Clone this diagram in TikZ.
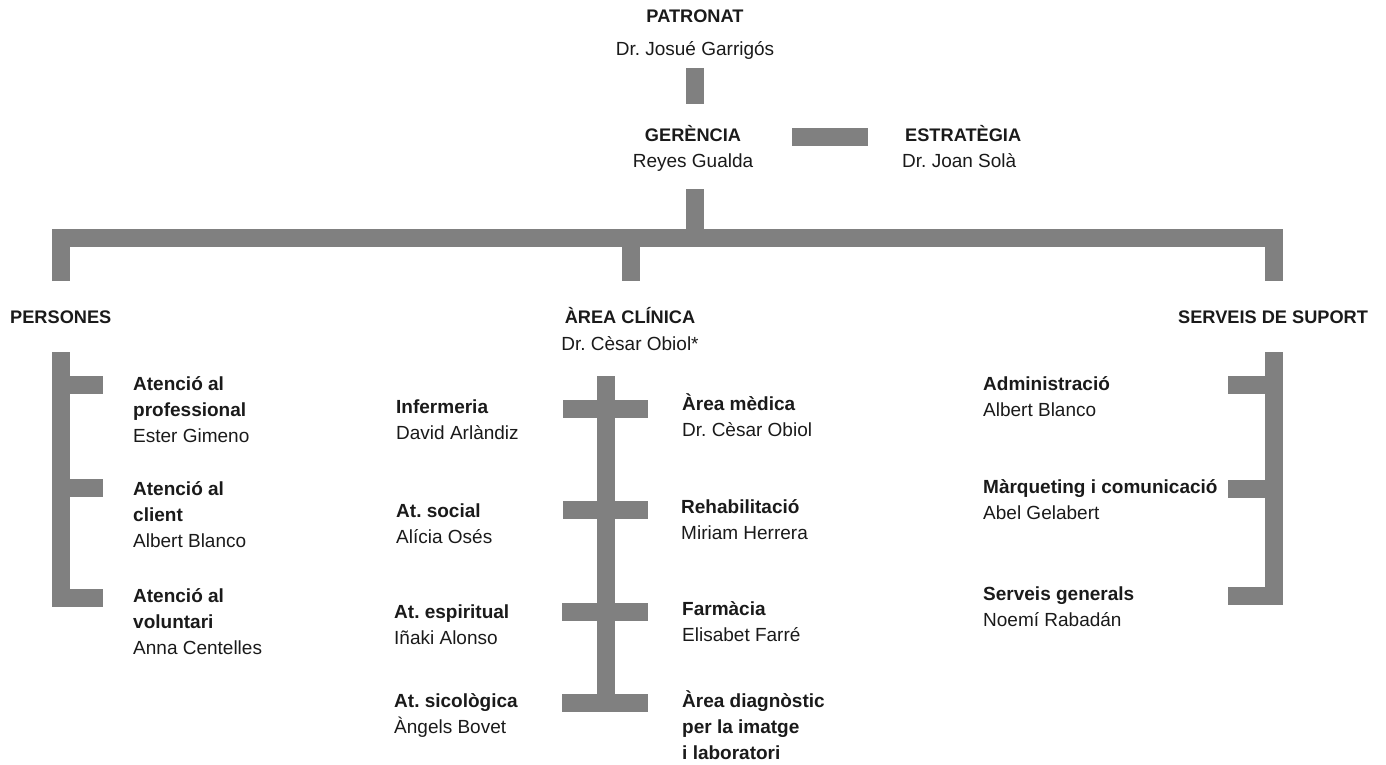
\documentclass[tikz,border=0pt]{standalone}
\usepackage{fontspec}
\setmainfont{Liberation Sans}
\definecolor{barc}{RGB}{128,128,128}
\definecolor{ink}{RGB}{26,26,26}
\newcommand\blk[1]{\vtop{\baselineskip=26pt\lineskiplimit=-100pt\lineskip=0pt\halign{##\hfil\cr#1\crcr}}}
\frenchspacing
\begin{document}
\begin{tikzpicture}[x=1pt,y=-1pt,
  bar/.style={line width=18pt, draw=barc, line cap=butt, line join=miter},
  txt/.style={inner sep=0pt, text=ink, font=\fontsize{19}{26}\selectfont},
  headtxt/.style={inner sep=0pt, text=ink, font=\fontsize{18.2}{26}\selectfont\bfseries}]
\useasboundingbox (0,0) rectangle (1386,765);
% headings
\node[headtxt,anchor=base] (patronat) at (695,23) {PATRONAT};
\node[txt,anchor=base] (patronatn) at (695,56) {Dr. Josué Garrigós};
\node[headtxt,anchor=base] (gerencia) at (693,142) {GERÈNCIA};
\node[txt,anchor=base] (gerencian) at (693,167) {Reyes Gualda};
\node[headtxt,anchor=base west] (estrategia) at (905,142) {ESTRATÈGIA};
\node[txt,anchor=base west] (estrategian) at (902,167) {Dr. Joan Solà};
\node[headtxt,anchor=base west] (persones) at (10,323) {PERSONES};
\node[headtxt,anchor=base] (clinica) at (630,323) {ÀREA CLÍNICA};
\node[txt,anchor=base] (clinican) at (630,350) {Dr. Cèsar Obiol*};
\node[headtxt,anchor=base west] (suport) at (1178,323) {SERVEIS DE SUPORT};
% persones
\node[txt,anchor=base west] (pe1) at (133,390) {\blk{\bfseries Atenció al\cr\bfseries professional\cr Ester Gimeno}};
\node[txt,anchor=base west] (pe2) at (133,495) {\blk{\bfseries Atenció al\cr\bfseries client\cr Albert Blanco}};
\node[txt,anchor=base west] (pe3) at (133,602) {\blk{\bfseries Atenció al\cr\bfseries voluntari\cr Anna Centelles}};
% clinica left
\node[txt,anchor=base west] (cl1) at (396,413) {\blk{\bfseries Infermeria\cr David Arlàndiz}};
\node[txt,anchor=base west] (cl2) at (396,517) {\blk{\bfseries At. social\cr Alícia Osés}};
\node[txt,anchor=base west] (cl3) at (394,618) {\blk{\bfseries At. espiritual\cr Iñaki Alonso}};
\node[txt,anchor=base west] (cl4) at (394,707) {\blk{\bfseries At. sicològica\cr Àngels Bovet}};
% clinica right
\node[txt,anchor=base west] (cr1) at (682,410) {\blk{\bfseries Àrea mèdica\cr Dr. Cèsar Obiol}};
\node[txt,anchor=base west] (cr2) at (681,513) {\blk{\bfseries Rehabilitació\cr Miriam Herrera}};
\node[txt,anchor=base west] (cr3) at (682,615) {\blk{\bfseries Farmàcia\cr Elisabet Farré}};
\node[txt,anchor=base west] (cr4) at (682,707) {\blk{\bfseries Àrea diagnòstic\cr\bfseries per la imatge\cr\bfseries i laboratori}};
% serveis
\node[txt,anchor=base west] (sv1) at (983,390) {\blk{\bfseries Administració\cr Albert Blanco}};
\node[txt,anchor=base west] (sv2) at (983,493) {\blk{\bfseries Màrqueting i comunicació\cr Abel Gelabert}};
\node[txt,anchor=base west] (sv3) at (983,600) {\blk{\bfseries Serveis generals\cr Noemí Rabadán}};
% bar coordinates
\coordinate (pA) at (695,68);   \coordinate (pB) at (695,104);
\coordinate (gA) at (792,137);  \coordinate (gB) at (868,137);
\coordinate (gC) at (695,189);  \coordinate (gD) at (695,238);
\coordinate (hL0) at (61,281);  \coordinate (hL) at (61,238);
\coordinate (hR) at (1274,238); \coordinate (hR0) at (1274,281);
\coordinate (hM) at (631,238);  \coordinate (hM0) at (631,281);
% persones bracket
\coordinate (ptop) at (60.5,352); \coordinate (pbot) at (60.5,597.5); \coordinate (pbotE) at (103,597.5);
\coordinate (pt1) at (60.5,384.5); \coordinate (pt1E) at (103,384.5);
\coordinate (pt2) at (60.5,488);   \coordinate (pt2E) at (103,488);
% clinica spine
\coordinate (ctop) at (606,376); \coordinate (cbot) at (606,702.5);
\coordinate (ct1W) at (563,409);   \coordinate (ct1E) at (648,409);
\coordinate (ct2W) at (563,510);   \coordinate (ct2E) at (648,510);
\coordinate (ct3W) at (562,611.5); \coordinate (ct3E) at (648,611.5);
\coordinate (ct4W) at (562,702.5); \coordinate (ct4E) at (648,702.5);
% serveis bracket
\coordinate (stop) at (1274,352); \coordinate (sbot) at (1274,596); \coordinate (sbotW) at (1228,596);
\coordinate (st1) at (1274,385); \coordinate (st1W) at (1228,385);
\coordinate (st2) at (1274,489); \coordinate (st2W) at (1228,489);
% bars
\draw[bar] (pA) -- (pB);
\draw[bar] (gA) -- (gB);
\draw[bar] (gC) -- (gD);
\draw[bar] (hL0) -- (hL) -- (hR) -- (hR0);
\draw[bar] (hM) -- (hM0);
\draw[bar] (ptop) -- (pbot) -- (pbotE);
\draw[bar] (pt1) -- (pt1E);
\draw[bar] (pt2) -- (pt2E);
\draw[bar] (ctop) -- (cbot);
\draw[bar] (ct1W) -- (ct1E);
\draw[bar] (ct2W) -- (ct2E);
\draw[bar] (ct3W) -- (ct3E);
\draw[bar] (ct4W) -- (ct4E);
\draw[bar] (stop) -- (sbot) -- (sbotW);
\draw[bar] (st1) -- (st1W);
\draw[bar] (st2) -- (st2W);
\end{tikzpicture}
\end{document}
